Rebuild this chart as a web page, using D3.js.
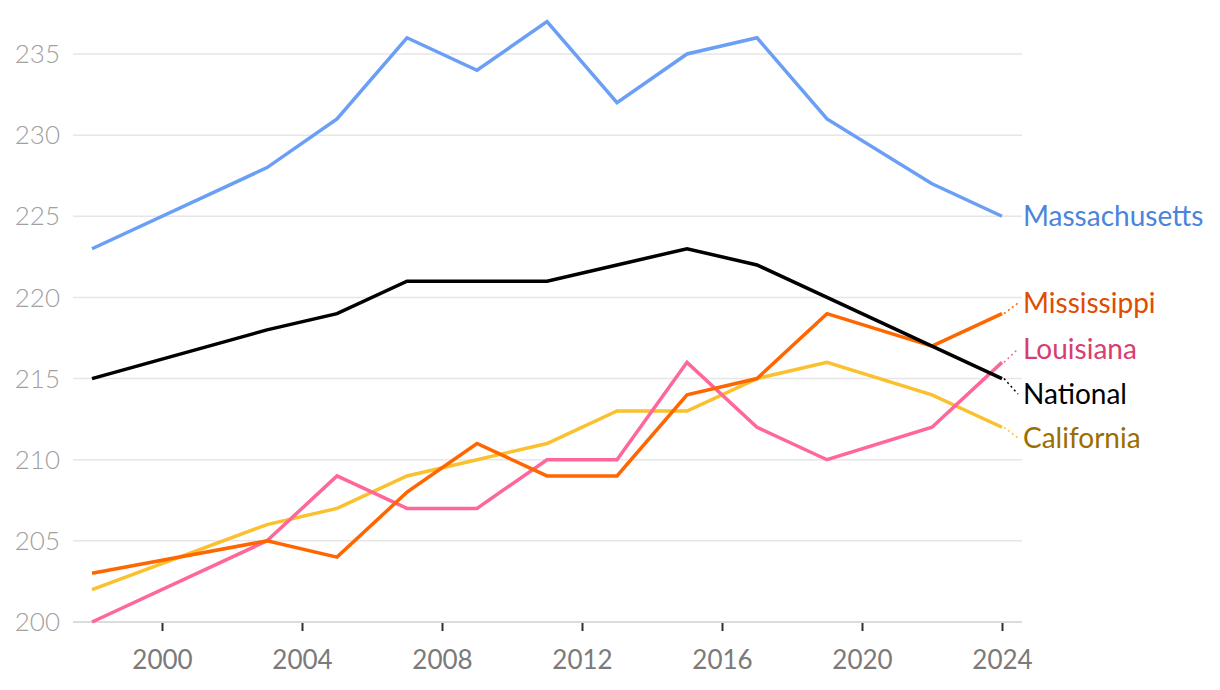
<!DOCTYPE html>
<html>
<head>
<meta charset="utf-8">
<script src="https://cdn.jsdelivr.net/npm/d3@7"></script>
<style>
  body { margin: 0; background: #fff; }
  svg { font-family: Lato, "Open Sans", sans-serif; }
</style>
</head>
<body>
<div class="chart"></div>
<script>
// NAEP-style scores by assessment year
const years = [1998, 2003, 2005, 2007, 2009, 2011, 2013, 2015, 2017, 2019, 2022, 2024];
const massachusetts = [223, 228, 231, 236, 234, 237, 232, 235, 236, 231, 227, 225];
const national = [215, 218, 219, 221, 221, 221, 222, 223, 222, 220, 217, 215];
const mississippi = [203, 205, 204, 208, 211, 209, 209, 214, 215, 219, 217, 219];
const louisiana = [200, 205, 209, 207, 207, 210, 210, 216, 212, 210, 212, 216];
const california = [202, 206, 207, 209, 210, 211, 213, 213, 215, 216, 214, 212];
const yTicks = [200, 205, 210, 215, 220, 225, 230, 235];
const xTicks = [2000, 2004, 2008, 2012, 2016, 2020, 2024];

const series = [
    {name: 'California', values: california, line: '#fbc02d', label: '#9c6d00', labelY: 438},
    {name: 'Louisiana', values: louisiana, line: '#ff6699', label: '#d93d70', labelY: 349},
    {name: 'Mississippi', values: mississippi, line: '#ff6600', label: '#e04c00', labelY: 303},
    {name: 'National', values: national, line: '#000000', label: '#000000', labelY: 394},
    {name: 'Massachusetts', values: massachusetts, line: '#6a9ff5', label: '#4a84dc', labelY: 216}
];

const width = 1220, height = 690;
const svg = d3.select('.chart').append('svg')
    .attr('width', width)
    .attr('height', height);

let x = d3.scaleLinear().domain([1998, 2024]).range([92, 1002]);
let y = d3.scaleLinear().domain([200, 235]).range([622, 54]);
const gridLeft = 73, gridRight = 1022;

// gridlines + y labels
let yAxisGroup = svg.append('g');
yAxisGroup.selectAll('line')
    .data(yTicks)
    .enter().append('line')
    .attr('x1', gridLeft)
    .attr('x2', gridRight)
    .attr('y1', d => y(d))
    .attr('y2', d => y(d))
    .attr('stroke', d => d === 200 ? '#dcdcdc' : '#e6e6e6')
    .attr('stroke-width', d => d === 200 ? 2 : 1.5);
yAxisGroup.selectAll('text')
    .data(yTicks)
    .enter().append('text')
    .attr('x', 60)
    .attr('y', d => y(d))
    .attr('dy', '0.35em')
    .attr('text-anchor', 'end')
    .attr('fill', '#a0a0a0')
    .attr('font-size', 26)
    .attr('font-weight', 300)
    .text(d => d);

// x axis
let xAxisGroup = svg.append('g')
    .attr('transform', 'translate(0,' + y(200) + ')')
    .call(d3.axisBottom(x).tickValues(xTicks).tickFormat(d3.format('d')).tickSize(9).tickPadding(20));
xAxisGroup.select('.domain').remove();
xAxisGroup.selectAll('line')
    .attr('stroke', '#333')
    .attr('stroke-width', 2)
    .attr('y1', 1);
xAxisGroup.selectAll('text')
    .attr('fill', '#7a7a7a')
    .attr('font-size', 26)
    .attr('font-family', 'Lato, "Open Sans", sans-serif');

let valueLine = d3.line()
    .x((d, i) => x(years[i]))
    .y(d => y(d));

series.forEach((s) => {
    svg.append('path')
        .datum(s.values)
        .attr('d', valueLine)
        .attr('fill', 'none')
        .attr('stroke', s.line)
        .attr('stroke-width', 3.5)
        .attr('stroke-linejoin', 'miter');

    let lastY = y(s.values[s.values.length - 1]);
    // dotted leader to label
    if (Math.abs(lastY - s.labelY) > 3) {
        svg.append('line')
            .attr('x1', x(2024) + 2)
            .attr('y1', lastY)
            .attr('x2', 1018)
            .attr('y2', s.labelY)
            .attr('stroke', s.line)
            .attr('stroke-width', 1.5)
            .attr('stroke-dasharray', '2,3');
    }

    svg.append('text')
        .attr('x', 1023)
        .attr('y', s.labelY)
        .attr('dy', '0.35em')
        .attr('fill', s.label)
        .attr('font-size', 28)
        .text(s.name);
});
</script>
</body>
</html>
